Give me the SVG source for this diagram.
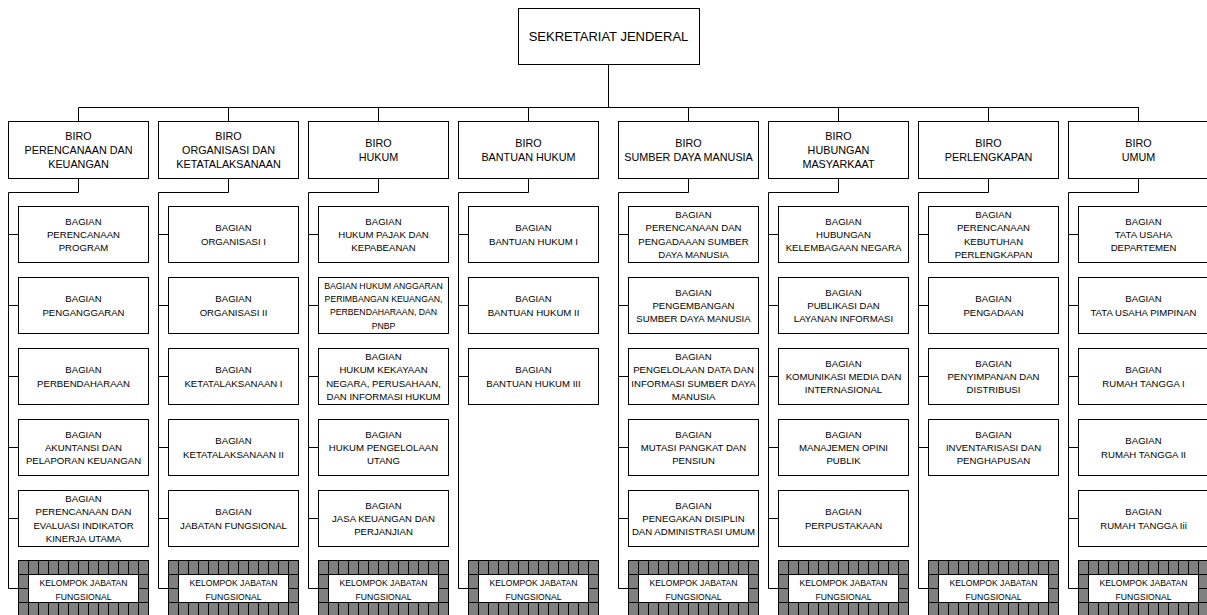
<svg xmlns="http://www.w3.org/2000/svg" width="1207" height="615" viewBox="0 0 1207 615">
<style>
.box{fill:#fff;stroke:#000;stroke-width:1}
.conn{fill:none;stroke:#000;stroke-width:1}
.hat{fill:url(#grid);stroke:#000;stroke-width:1}
.t{font-family:"Liberation Sans",Arial,sans-serif;text-anchor:middle;fill:#000}
.top{font-size:13px}
.biro{font-size:10.8px}
.bag{font-size:9.6px}
.sm{font-size:8.7px}
.kel{font-size:8.6px}
</style>
<defs>
<pattern id="grid" patternUnits="userSpaceOnUse" x="18" y="560" width="10" height="14">
<rect width="10" height="14" fill="#808080"/>
<path d="M0 0.5H10M0.5 0V14" stroke="#000" stroke-width="1" fill="none"/>
</pattern>
</defs>
<rect width="1207" height="615" fill="#fff"/>

<g id="connectors" class="conn">
<path d="M608.5 64.5V107.5M78.5 107.5H1139"/>
<path d="M78.5 107.5V121.5M228.5 107.5V121.5M378.5 107.5V121.5M528.5 107.5V121.5M688.5 107.5V121.5M838.5 107.5V121.5M988.5 107.5V121.5M1138.5 107.5V121.5"/>
<path d="M78.5 178.5V192.5H8.5V588.5H18.5M8.5 234.5H18.5M8.5 305.5H18.5M8.5 376.5H18.5M8.5 447.5H18.5M8.5 518.5H18.5"/>
<path d="M228.5 178.5V192.5H158.5V588.5H168.5M158.5 234.5H168.5M158.5 305.5H168.5M158.5 376.5H168.5M158.5 447.5H168.5M158.5 518.5H168.5"/>
<path d="M378.5 178.5V192.5H308.5V588.5H318.5M308.5 234.5H318.5M308.5 305.5H318.5M308.5 376.5H318.5M308.5 447.5H318.5M308.5 518.5H318.5"/>
<path d="M528.5 178.5V192.5H458.5V588.5H468.5M458.5 234.5H468.5M458.5 305.5H468.5M458.5 376.5H468.5"/>
<path d="M688.5 178.5V192.5H618.5V588.5H628.5M618.5 234.5H628.5M618.5 305.5H628.5M618.5 376.5H628.5M618.5 447.5H628.5M618.5 518.5H628.5"/>
<path d="M838.5 178.5V192.5H768.5V588.5H778.5M768.5 234.5H778.5M768.5 305.5H778.5M768.5 376.5H778.5M768.5 447.5H778.5M768.5 518.5H778.5"/>
<path d="M988.5 178.5V192.5H918.5V588.5H928.5M918.5 234.5H928.5M918.5 305.5H928.5M918.5 376.5H928.5M918.5 447.5H928.5"/>
<path d="M1138.5 178.5V192.5H1068.5V588.5H1078.5M1068.5 234.5H1078.5M1068.5 305.5H1078.5M1068.5 376.5H1078.5M1068.5 447.5H1078.5M1068.5 518.5H1078.5"/>
</g>

<g id="sekjen"><rect class="box" x="518.5" y="8.5" width="181" height="56"/><text class="t top" x="608.5" y="41.2">SEKRETARIAT JENDERAL</text></g>

<!-- Column 1 -->
<g id="biro-perencanaan"><rect class="box" x="8.5" y="121.5" width="140" height="57"/><text class="t biro" x="78.5" y="139.6"><tspan x="78.5">BIRO</tspan><tspan x="78.5" dy="14.3">PERENCANAAN DAN</tspan><tspan x="78.5" dy="14.3">KEUANGAN</tspan></text></g>
<g id="c1-1"><rect class="box" x="18.5" y="206.5" width="130" height="56"/><text class="t bag" x="83.5" y="224.6"><tspan x="83.5">BAGIAN</tspan><tspan x="83.5" dy="13.3">PERENCANAAN</tspan><tspan x="83.5" dy="13.3">PROGRAM</tspan></text></g>
<g id="c1-2"><rect class="box" x="18.5" y="277.5" width="130" height="56"/><text class="t bag" x="83.5" y="301.9"><tspan x="83.5">BAGIAN</tspan><tspan x="83.5" dy="14">PENGANGGARAN</tspan></text></g>
<g id="c1-3"><rect class="box" x="18.5" y="348.5" width="130" height="56"/><text class="t bag" x="83.5" y="372.9"><tspan x="83.5">BAGIAN</tspan><tspan x="83.5" dy="14">PERBENDAHARAAN</tspan></text></g>
<g id="c1-4"><rect class="box" x="18.5" y="419.5" width="130" height="56"/><text class="t bag" x="83.5" y="437.6"><tspan x="83.5">BAGIAN</tspan><tspan x="83.5" dy="13.3">AKUNTANSI DAN</tspan><tspan x="83.5" dy="13.3">PELAPORAN KEUANGAN</tspan></text></g>
<g id="c1-5"><rect class="box" x="18.5" y="490.5" width="130" height="56"/><text class="t bag" x="83.5" y="501.95"><tspan x="83.5">BAGIAN</tspan><tspan x="83.5" dy="13.3">PERENCANAAN DAN</tspan><tspan x="83.5" dy="13.3">EVALUASI INDIKATOR</tspan><tspan x="83.5" dy="13.3">KINERJA UTAMA</tspan></text></g>
<g id="c1-k"><rect class="hat" x="18.5" y="560.5" width="130" height="56"/><rect class="box" x="28.5" y="574.5" width="110" height="28"/><text class="t kel" x="83.5" y="585.8"><tspan x="83.5">KELOMPOK JABATAN</tspan><tspan x="83.5" dy="14">FUNGSIONAL</tspan></text></g>

<!-- Column 2 -->
<g id="biro-organisasi"><rect class="box" x="158.5" y="121.5" width="140" height="57"/><text class="t biro" x="228.5" y="139.6"><tspan x="228.5">BIRO</tspan><tspan x="228.5" dy="14.3">ORGANISASI DAN</tspan><tspan x="228.5" dy="14.3">KETATALAKSANAAN</tspan></text></g>
<g id="c2-1"><rect class="box" x="168.5" y="206.5" width="130" height="56"/><text class="t bag" x="233.5" y="230.9"><tspan x="233.5">BAGIAN</tspan><tspan x="233.5" dy="14">ORGANISASI I</tspan></text></g>
<g id="c2-2"><rect class="box" x="168.5" y="277.5" width="130" height="56"/><text class="t bag" x="233.5" y="301.9"><tspan x="233.5">BAGIAN</tspan><tspan x="233.5" dy="14">ORGANISASI II</tspan></text></g>
<g id="c2-3"><rect class="box" x="168.5" y="348.5" width="130" height="56"/><text class="t bag" x="233.5" y="372.9"><tspan x="233.5">BAGIAN</tspan><tspan x="233.5" dy="14">KETATALAKSANAAN I</tspan></text></g>
<g id="c2-4"><rect class="box" x="168.5" y="419.5" width="130" height="56"/><text class="t bag" x="233.5" y="443.9"><tspan x="233.5">BAGIAN</tspan><tspan x="233.5" dy="14">KETATALAKSANAAN II</tspan></text></g>
<g id="c2-5"><rect class="box" x="168.5" y="490.5" width="130" height="56"/><text class="t bag" x="233.5" y="514.9"><tspan x="233.5">BAGIAN</tspan><tspan x="233.5" dy="14">JABATAN FUNGSIONAL</tspan></text></g>
<g id="c2-k"><rect class="hat" x="168.5" y="560.5" width="130" height="56"/><rect class="box" x="178.5" y="574.5" width="110" height="28"/><text class="t kel" x="233.5" y="585.8"><tspan x="233.5">KELOMPOK JABATAN</tspan><tspan x="233.5" dy="14">FUNGSIONAL</tspan></text></g>

<!-- Column 3 -->
<g id="biro-hukum"><rect class="box" x="308.5" y="121.5" width="140" height="57"/><text class="t biro" x="378.5" y="146.75"><tspan x="378.5">BIRO</tspan><tspan x="378.5" dy="14.3">HUKUM</tspan></text></g>
<g id="c3-1"><rect class="box" x="318.5" y="206.5" width="130" height="56"/><text class="t bag" x="383.5" y="224.6"><tspan x="383.5">BAGIAN</tspan><tspan x="383.5" dy="13.3">HUKUM PAJAK DAN</tspan><tspan x="383.5" dy="13.3">KEPABEANAN</tspan></text></g>
<g id="c3-2"><rect class="box" x="318.5" y="277.5" width="130" height="56"/><text class="t sm" x="383.5" y="288.65"><tspan x="383.5">BAGIAN HUKUM ANGGARAN</tspan><tspan x="383.5" dy="13.3">PERIMBANGAN KEUANGAN,</tspan><tspan x="383.5" dy="13.3">PERBENDAHARAAN, DAN</tspan><tspan x="383.5" dy="13.3">PNBP</tspan></text></g>
<g id="c3-3"><rect class="box" x="318.5" y="348.5" width="130" height="56"/><text class="t bag" x="383.5" y="359.95"><tspan x="383.5">BAGIAN</tspan><tspan x="383.5" dy="13.3">HUKUM KEKAYAAN</tspan><tspan x="383.5" dy="13.3">NEGARA, PERUSAHAAN,</tspan><tspan x="383.5" dy="13.3">DAN INFORMASI HUKUM</tspan></text></g>
<g id="c3-4"><rect class="box" x="318.5" y="419.5" width="130" height="56"/><text class="t bag" x="383.5" y="437.6"><tspan x="383.5">BAGIAN</tspan><tspan x="383.5" dy="13.3">HUKUM PENGELOLAAN</tspan><tspan x="383.5" dy="13.3">UTANG</tspan></text></g>
<g id="c3-5"><rect class="box" x="318.5" y="490.5" width="130" height="56"/><text class="t bag" x="383.5" y="508.6"><tspan x="383.5">BAGIAN</tspan><tspan x="383.5" dy="13.3">JASA KEUANGAN DAN</tspan><tspan x="383.5" dy="13.3">PERJANJIAN</tspan></text></g>
<g id="c3-k"><rect class="hat" x="318.5" y="560.5" width="130" height="56"/><rect class="box" x="328.5" y="574.5" width="110" height="28"/><text class="t kel" x="383.5" y="585.8"><tspan x="383.5">KELOMPOK JABATAN</tspan><tspan x="383.5" dy="14">FUNGSIONAL</tspan></text></g>

<!-- Column 4 -->
<g id="biro-bantuan-hukum"><rect class="box" x="458.5" y="121.5" width="140" height="57"/><text class="t biro" x="528.5" y="146.75"><tspan x="528.5">BIRO</tspan><tspan x="528.5" dy="14.3">BANTUAN HUKUM</tspan></text></g>
<g id="c4-1"><rect class="box" x="468.5" y="206.5" width="130" height="56"/><text class="t bag" x="533.5" y="230.9"><tspan x="533.5">BAGIAN</tspan><tspan x="533.5" dy="14">BANTUAN HUKUM I</tspan></text></g>
<g id="c4-2"><rect class="box" x="468.5" y="277.5" width="130" height="56"/><text class="t bag" x="533.5" y="301.9"><tspan x="533.5">BAGIAN</tspan><tspan x="533.5" dy="14">BANTUAN HUKUM II</tspan></text></g>
<g id="c4-3"><rect class="box" x="468.5" y="348.5" width="130" height="56"/><text class="t bag" x="533.5" y="372.9"><tspan x="533.5">BAGIAN</tspan><tspan x="533.5" dy="14">BANTUAN HUKUM III</tspan></text></g>
<g id="c4-k"><rect class="hat" x="468.5" y="560.5" width="130" height="56"/><rect class="box" x="478.5" y="574.5" width="110" height="28"/><text class="t kel" x="533.5" y="585.8"><tspan x="533.5">KELOMPOK JABATAN</tspan><tspan x="533.5" dy="14">FUNGSIONAL</tspan></text></g>

<!-- Column 5 -->
<g id="biro-sdm"><rect class="box" x="618.5" y="121.5" width="140" height="57"/><text class="t biro" x="688.5" y="146.75"><tspan x="688.5">BIRO</tspan><tspan x="688.5" dy="14.3">SUMBER DAYA MANUSIA</tspan></text></g>
<g id="c5-1"><rect class="box" x="628.5" y="206.5" width="130" height="56"/><text class="t bag" x="693.5" y="217.95"><tspan x="693.5">BAGIAN</tspan><tspan x="693.5" dy="13.3">PERENCANAAN DAN</tspan><tspan x="693.5" dy="13.3">PENGADAAAN SUMBER</tspan><tspan x="693.5" dy="13.3">DAYA MANUSIA</tspan></text></g>
<g id="c5-2"><rect class="box" x="628.5" y="277.5" width="130" height="56"/><text class="t bag" x="693.5" y="295.6"><tspan x="693.5">BAGIAN</tspan><tspan x="693.5" dy="13.3">PENGEMBANGAN</tspan><tspan x="693.5" dy="13.3">SUMBER DAYA MANUSIA</tspan></text></g>
<g id="c5-3"><rect class="box" x="628.5" y="348.5" width="130" height="56"/><text class="t bag" x="693.5" y="359.95"><tspan x="693.5">BAGIAN</tspan><tspan x="693.5" dy="13.3">PENGELOLAAN DATA DAN</tspan><tspan x="693.5" dy="13.3">INFORMASI SUMBER DAYA</tspan><tspan x="693.5" dy="13.3">MANUSIA</tspan></text></g>
<g id="c5-4"><rect class="box" x="628.5" y="419.5" width="130" height="56"/><text class="t bag" x="693.5" y="437.6"><tspan x="693.5">BAGIAN</tspan><tspan x="693.5" dy="13.3">MUTASI PANGKAT DAN</tspan><tspan x="693.5" dy="13.3">PENSIUN</tspan></text></g>
<g id="c5-5"><rect class="box" x="628.5" y="490.5" width="130" height="56"/><text class="t bag" x="693.5" y="508.6"><tspan x="693.5">BAGIAN</tspan><tspan x="693.5" dy="13.3">PENEGAKAN DISIPLIN</tspan><tspan x="693.5" dy="13.3">DAN ADMINISTRASI UMUM</tspan></text></g>
<g id="c5-k"><rect class="hat" x="628.5" y="560.5" width="130" height="56"/><rect class="box" x="638.5" y="574.5" width="110" height="28"/><text class="t kel" x="693.5" y="585.8"><tspan x="693.5">KELOMPOK JABATAN</tspan><tspan x="693.5" dy="14">FUNGSIONAL</tspan></text></g>

<!-- Column 6 -->
<g id="biro-humas"><rect class="box" x="768.5" y="121.5" width="140" height="57"/><text class="t biro" x="838.5" y="139.6"><tspan x="838.5">BIRO</tspan><tspan x="838.5" dy="14.3">HUBUNGAN</tspan><tspan x="838.5" dy="14.3">MASYARKAAT</tspan></text></g>
<g id="c6-1"><rect class="box" x="778.5" y="206.5" width="130" height="56"/><text class="t bag" x="843.5" y="224.6"><tspan x="843.5">BAGIAN</tspan><tspan x="843.5" dy="13.3">HUBUNGAN</tspan><tspan x="843.5" dy="13.3">KELEMBAGAAN NEGARA</tspan></text></g>
<g id="c6-2"><rect class="box" x="778.5" y="277.5" width="130" height="56"/><text class="t bag" x="843.5" y="295.6"><tspan x="843.5">BAGIAN</tspan><tspan x="843.5" dy="13.3">PUBLIKASI DAN</tspan><tspan x="843.5" dy="13.3">LAYANAN INFORMASI</tspan></text></g>
<g id="c6-3"><rect class="box" x="778.5" y="348.5" width="130" height="56"/><text class="t bag" x="843.5" y="366.6"><tspan x="843.5">BAGIAN</tspan><tspan x="843.5" dy="13.3">KOMUNIKASI MEDIA DAN</tspan><tspan x="843.5" dy="13.3">INTERNASIONAL</tspan></text></g>
<g id="c6-4"><rect class="box" x="778.5" y="419.5" width="130" height="56"/><text class="t bag" x="843.5" y="437.6"><tspan x="843.5">BAGIAN</tspan><tspan x="843.5" dy="13.3">MANAJEMEN OPINI</tspan><tspan x="843.5" dy="13.3">PUBLIK</tspan></text></g>
<g id="c6-5"><rect class="box" x="778.5" y="490.5" width="130" height="56"/><text class="t bag" x="843.5" y="514.9"><tspan x="843.5">BAGIAN</tspan><tspan x="843.5" dy="14">PERPUSTAKAAN</tspan></text></g>
<g id="c6-k"><rect class="hat" x="778.5" y="560.5" width="130" height="56"/><rect class="box" x="788.5" y="574.5" width="110" height="28"/><text class="t kel" x="843.5" y="585.8"><tspan x="843.5">KELOMPOK JABATAN</tspan><tspan x="843.5" dy="14">FUNGSIONAL</tspan></text></g>

<!-- Column 7 -->
<g id="biro-perlengkapan"><rect class="box" x="918.5" y="121.5" width="140" height="57"/><text class="t biro" x="988.5" y="146.75"><tspan x="988.5">BIRO</tspan><tspan x="988.5" dy="14.3">PERLENGKAPAN</tspan></text></g>
<g id="c7-1"><rect class="box" x="928.5" y="206.5" width="130" height="56"/><text class="t bag" x="993.5" y="217.95"><tspan x="993.5">BAGIAN</tspan><tspan x="993.5" dy="13.3">PERENCANAAN</tspan><tspan x="993.5" dy="13.3">KEBUTUHAN</tspan><tspan x="993.5" dy="13.3">PERLENGKAPAN</tspan></text></g>
<g id="c7-2"><rect class="box" x="928.5" y="277.5" width="130" height="56"/><text class="t bag" x="993.5" y="301.9"><tspan x="993.5">BAGIAN</tspan><tspan x="993.5" dy="14">PENGADAAN</tspan></text></g>
<g id="c7-3"><rect class="box" x="928.5" y="348.5" width="130" height="56"/><text class="t bag" x="993.5" y="366.6"><tspan x="993.5">BAGIAN</tspan><tspan x="993.5" dy="13.3">PENYIMPANAN DAN</tspan><tspan x="993.5" dy="13.3">DISTRIBUSI</tspan></text></g>
<g id="c7-4"><rect class="box" x="928.5" y="419.5" width="130" height="56"/><text class="t bag" x="993.5" y="437.6"><tspan x="993.5">BAGIAN</tspan><tspan x="993.5" dy="13.3">INVENTARISASI DAN</tspan><tspan x="993.5" dy="13.3">PENGHAPUSAN</tspan></text></g>
<g id="c7-k"><rect class="hat" x="928.5" y="560.5" width="130" height="56"/><rect class="box" x="938.5" y="574.5" width="110" height="28"/><text class="t kel" x="993.5" y="585.8"><tspan x="993.5">KELOMPOK JABATAN</tspan><tspan x="993.5" dy="14">FUNGSIONAL</tspan></text></g>

<!-- Column 8 -->
<g id="biro-umum"><rect class="box" x="1068.5" y="121.5" width="140" height="57"/><text class="t biro" x="1138.5" y="146.75"><tspan x="1138.5">BIRO</tspan><tspan x="1138.5" dy="14.3">UMUM</tspan></text></g>
<g id="c8-1"><rect class="box" x="1078.5" y="206.5" width="130" height="56"/><text class="t bag" x="1143.5" y="224.6"><tspan x="1143.5">BAGIAN</tspan><tspan x="1143.5" dy="13.3">TATA USAHA</tspan><tspan x="1143.5" dy="13.3">DEPARTEMEN</tspan></text></g>
<g id="c8-2"><rect class="box" x="1078.5" y="277.5" width="130" height="56"/><text class="t bag" x="1143.5" y="301.9"><tspan x="1143.5">BAGIAN</tspan><tspan x="1143.5" dy="14">TATA USAHA PIMPINAN</tspan></text></g>
<g id="c8-3"><rect class="box" x="1078.5" y="348.5" width="130" height="56"/><text class="t bag" x="1143.5" y="372.9"><tspan x="1143.5">BAGIAN</tspan><tspan x="1143.5" dy="14">RUMAH TANGGA I</tspan></text></g>
<g id="c8-4"><rect class="box" x="1078.5" y="419.5" width="130" height="56"/><text class="t bag" x="1143.5" y="443.9"><tspan x="1143.5">BAGIAN</tspan><tspan x="1143.5" dy="14">RUMAH TANGGA II</tspan></text></g>
<g id="c8-5"><rect class="box" x="1078.5" y="490.5" width="130" height="56"/><text class="t bag" x="1143.5" y="514.9"><tspan x="1143.5">BAGIAN</tspan><tspan x="1143.5" dy="14">RUMAH TANGGA Iii</tspan></text></g>
<g id="c8-k"><rect class="hat" x="1078.5" y="560.5" width="130" height="56"/><rect class="box" x="1088.5" y="574.5" width="110" height="28"/><text class="t kel" x="1143.5" y="585.8"><tspan x="1143.5">KELOMPOK JABATAN</tspan><tspan x="1143.5" dy="14">FUNGSIONAL</tspan></text></g>
</svg>
